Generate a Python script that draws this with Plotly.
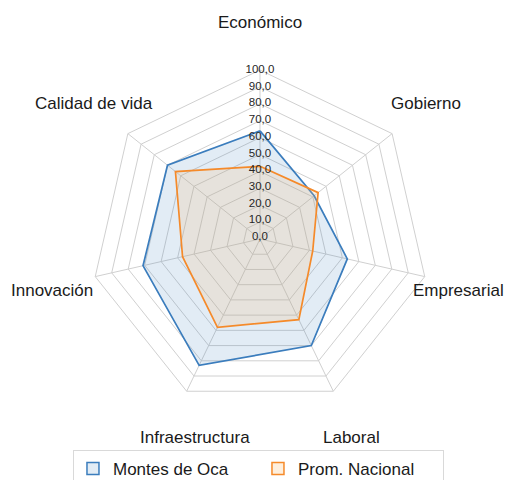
#!/usr/bin/env python3
"""Radar chart: Montes de Oca vs national average across seven pillars."""
import plotly.graph_objects as go

categories = ["Económico", "Gobierno", "Empresarial", "Laboral",
              "Infraestructura", "Innovación", "Calidad de vida"]
montes_de_oca = [64, 41, 53, 70, 83, 71, 70]
prom_nacional = [43, 44, 32, 53, 58, 47, 64]
tick_values = [0, 10, 20, 30, 40, 50, 60, 70, 80, 90, 100]
tick_labels = ["0,0", "10,0", "20,0", "30,0", "40,0", "50,0",
               "60,0", "70,0", "80,0", "90,0", "100,0"]

# page has an 8px body margin; the figure runs to the bottom edge
# so the legend box is cropped like in the original
W, H = 506, 480

# category label anchor points, in page pixels of the original layout
label_px = [(260, 22, "center"), (426, 104, "center"), (506, 290, "right"),
            (351, 437, "center"), (195, 437, "center"), (52, 290, "center"),
            (94, 104, "center")]

FONT = "Liberation Sans, Arial, sans-serif"
GRID = "#d0d0d0"
BLUE, BLUE_FILL = "#3b7dbd", "rgba(59,125,189,0.15)"
ORANGE, ORANGE_FILL = "#f58a2a", "rgba(250,190,120,0.2)"
DOMAIN = dict(x=[0.1640, 0.8320], y=[0.1667, 0.8708])

fig = go.Figure()

fig.add_trace(go.Scatterpolar(
    r=montes_de_oca + montes_de_oca[:1], theta=categories + categories[:1],
    name="Montes de Oca", mode="lines", fill="toself",
    line=dict(color=BLUE, width=1.7), fillcolor=BLUE_FILL,
    legendgroup="a", showlegend=False,
))
fig.add_trace(go.Scatterpolar(
    r=prom_nacional + prom_nacional[:1], theta=categories + categories[:1],
    name="Prom. Nacional", mode="lines", fill="toself",
    line=dict(color=ORANGE, width=1.7), fillcolor=ORANGE_FILL,
    legendgroup="b", showlegend=False,
))

# legend swatches (boxed, like the original)
for name, col, fcol, grp in [("Montes de Oca", BLUE, "rgba(59,125,189,0.15)", "a"),
                             ("Prom. Nacional", ORANGE, "rgba(250,190,120,0.25)", "b")]:
    fig.add_trace(go.Barpolar(
        r=[None], theta=[categories[0]], name=name, legendgroup=grp,
        marker=dict(color=fcol, line=dict(color=col, width=1.5)),
        hoverinfo="skip",
    ))

# radial tick labels sit centred on the top spoke; drawn on an overlaid
# polar so the 0,0 label at the centre is not dropped
fig.add_trace(go.Scatterpolar(
    r=tick_values, theta=[90] * len(tick_values), subplot="polar2",
    mode="text", text=tick_labels, textposition="middle center",
    textfont=dict(family=FONT, size=11.5, color="#262626"),
    cliponaxis=False, showlegend=False, hoverinfo="skip",
))

for cat, (px, py, anchor) in zip(categories, label_px):
    fig.add_annotation(text=cat, x=(px - 8) / W, y=1 - (py - 8) / H,
                       xref="paper", yref="paper", showarrow=False,
                       xanchor=anchor, yanchor="middle",
                       font=dict(family=FONT, size=17, color="#1a1a1a"))

fig.update_layout(
    width=W, height=H,
    margin=dict(l=0, r=0, t=0, b=0),
    paper_bgcolor="white",
    font=dict(family=FONT, size=16, color="#1a1a1a"),
    polar=dict(
        domain=DOMAIN,
        bgcolor="white",
        gridshape="linear",
        radialaxis=dict(range=[0, 100], tickvals=tick_values,
                        showticklabels=False, ticks="", showline=False,
                        gridcolor=GRID, gridwidth=1),
        angularaxis=dict(direction="clockwise", rotation=90,
                         showticklabels=False, ticks="",
                         showline=True, linecolor=GRID, linewidth=1,
                         gridcolor=GRID, gridwidth=1),
    ),
    polar2=dict(
        domain=DOMAIN,
        bgcolor="rgba(0,0,0,0)",
        radialaxis=dict(range=[-1, 100], visible=False),
        angularaxis=dict(visible=False, direction="counterclockwise", rotation=0),
    ),
    showlegend=True,
    legend=dict(orientation="h", x=0.495, xanchor="center", y=0.0, yanchor="bottom",
                bordercolor="#d9d9d9", borderwidth=1, entrywidth=140,
                font=dict(family=FONT, size=17, color="#1a1a1a")),
)

fig.write_html("out.html")
